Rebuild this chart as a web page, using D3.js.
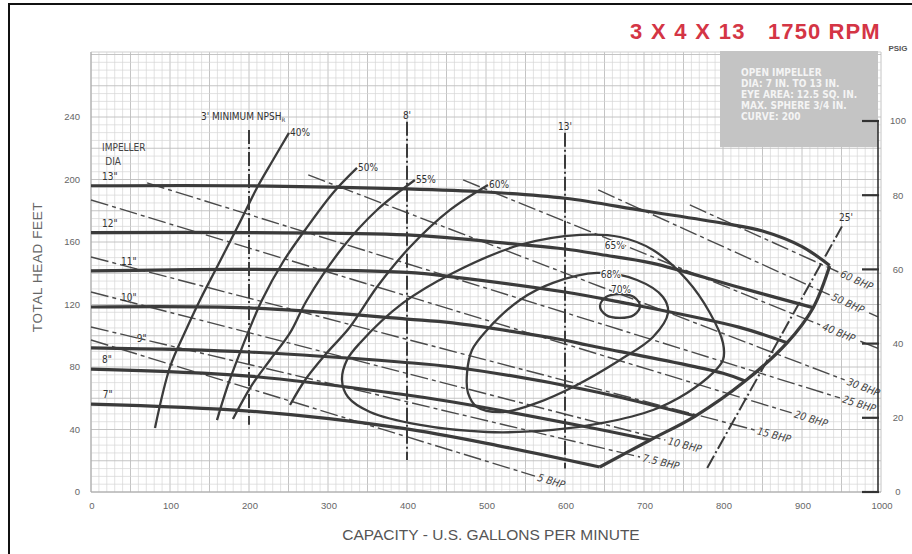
<!DOCTYPE html>
<html><head><meta charset="utf-8">
<script src="https://cdn.jsdelivr.net/npm/d3@7"></script>
<style>
html,body{margin:0;padding:0;background:#fff;}
svg{display:block;font-family:"Liberation Sans",Arial,sans-serif;}
.nar{font-family:"Liberation Sans Narrow","DejaVu Sans Condensed","Liberation Sans",sans-serif;}
</style></head><body>
<svg id="chart" width="912" height="554"></svg>
<script>
// ---- axis ticks ----
const capacityTicks = [0,100,200,300,400,500,600,700,800,900,1000];
const headTicks = [0,40,80,120,160,200,240];
const psigTicks = [0,20,40,60,80,100];

// ---- impeller head curves [gpm, ft] ----
const impellerNames = ['13"','12"','11"','10"','9"','8"','7"'];
const head13 = [[0,196],[200,196],[400,194],[500,192],[600,188],[700,180],[800,172],[850,167],[900,157],[935,145]];
const head12 = [[0,166],[200,166],[400,164.5],[540,158.5],[600,155.5],[645,152],[710,146.5],[820,131],[914,118]];
const head11 = [[0,141.5],[200,142.5],[400,140.5],[460,137.5],[600,128],[670,121.5],[820,105.5],[881,95.5]];
const head10 = [[0,118.4],[200,117.8],[400,110.7],[458,108.2],[598,97.3],[628,94.1],[800,76],[828,71]];
const head9  = [[0,92.2],[200,89.6],[391,83.2],[458,80],[628,65.3],[765,48.6]];
const head8  = [[0,78.7],[200,74.2],[391,62.7],[458,57.6],[628,41.6],[708,33.3]];
const head7  = [[0,56.3],[200,51.8],[391,41],[518,29.4],[644,16]];
const headCurves = [head13,head12,head11,head10,head9,head8,head7];
const impellerLabelGpm = [14,14,38,38,58,14,15];

// end-of-curve envelope
const endOfCurve = [[644,16],[708,33.3],[765,48.6],[828,71],[881,95.4],[914,117.8],[935,144.6]];

// ---- efficiency curves ----
const effOpenNames = ["40%","50%","55%","60%"];
const eff40 = [[81,41],[100,80],[119,102.4],[138,122.9],[159.5,144],[188.6,172.8],[210,194.6],[230.4,212.5],[250.6,229.8]];
const eff50 = [[159.5,46],[173.4,68.5],[192.4,94],[216.5,122.9],[243,147.2],[271,167.7],[306.3,191.4],[336.7,207.4]];
const eff55 = [[179.7,46.7],[203.8,68.5],[226.6,84.5],[251.9,101.8],[273.4,122.9],[319,156.8],[362,180.5],[410,199.7]];
const eff60 = [[251.9,55.7],[271,71.7],[296.2,87.7],[327.8,105.6],[362,131.2],[403.8,156.8],[454.4,180.5],[502.5,196.5]];
const effOpen = [eff40,eff50,eff55,eff60];

const effClosedNames = ["65%","68%","70%"];
const eff65 = [[317.7,71.7],[324,84.5],[340.5,95.4],[395,121],[458.2,140.2],[543,158.1],[619,164.5],[669.6,163.2],[711.4,154.9],[754.4,135.7],[783.5,114.6],[800,95.4],[800,84.5],[787.3,76.2],[754.4,63.4],[711.4,52.5],[648.1,44.2],[584.8,39.7],[501.3,38.4],[416.5,42.9],[353.2,51.2],[325.3,60.8]];
const eff68 = [[476,76.2],[482.3,90.9],[501.3,103.7],[543,122.9],[584.8,133.8],[640.5,140.2],[691.1,135.7],[724,124.8],[730.4,114.6],[711.4,99.2],[669.6,84.5],[610.1,67.2],[564.6,57],[521.5,51.2],[488.6,54.4],[477.2,63.4]];
const eff70 = [[644.3,119],[651.9,124.8],[669.6,126.7],[687.3,124.8],[694.9,119],[687.3,113.3],[669.6,111.4],[651.9,113.3]];
const effClosed = [eff65,eff68,eff70];
const effClosedLabelAt = [[663,155.5],[658,137],[671,127.5]];

// ---- NPSH required lines ----
const npshNames = ["3'","8'","13'","25'"];
const npsh3  = [[200,231.7],[200,43]];
const npsh8  = [[400,237],[400,20.5]];
const npsh13 = [[600,230],[600,15]];
const npsh25 = [[780,15.4],[950.6,170]];
const npshLines = [npsh3,npsh8,npsh13,npsh25];

// ---- brake horsepower lines ----
const bhpNames = ["5 BHP","7.5 BHP","10 BHP","15 BHP","20 BHP","25 BHP","30 BHP","40 BHP","50 BHP","60 BHP"];
const bhp5   = [[0,97.3],[562,10.2]];
const bhp7_5 = [[0,105.6],[695,22.4]];
const bhp10  = [[0,128],[727,33.3]];
const bhp15  = [[0,150.4],[840,39.7]];
const bhp20  = [[0,186.9],[887,50.6]];
const bhp25  = [[71,197.8],[948,60.2]];
const bhp30  = [[275,202.9],[954,71.7]];
const bhp40  = [[471,199.7],[923,106.9]];
const bhp50  = [[642,193.3],[935,126.1]];
const bhp60  = [[758,183.7],[946,140.8]];
const bhpLines = [bhp5,bhp7_5,bhp10,bhp15,bhp20,bhp25,bhp30,bhp40,bhp50,bhp60];
const bhpTail = [false,false,false,false,false,false,false,true,true,true];

const infoLines = ["OPEN IMPELLER","DIA: 7 IN. TO 13 IN.","EYE AREA: 12.5 SQ. IN.","MAX. SPHERE 3/4 IN.","CURVE: 200"];

// ---------------------------------------------------------------
const svg = d3.select("#chart");
const x = d3.scaleLinear().domain([0,1000]).range([91,881]);
const y = d3.scaleLinear().domain([0,240]).range([492,117]);
const p = d3.scaleLinear().domain([0,100]).range([492,121]);
const ink = "#3b3b3b";

svg.append("rect").attr("width",912).attr("height",554).attr("fill","#fff");

// graph-paper grid
const grid = svg.append("g");
const gTop = y(281.6);
d3.range(0,1001,10).forEach(v=>{
  grid.append("line").attr("x1",x(v)).attr("x2",x(v)).attr("y1",gTop).attr("y2",y(0))
    .attr("stroke", v%50===0 ? "#bdbdbd" : "#d6d6d6").attr("stroke-width", v%50===0?0.9:0.7);
});
d3.range(0,281,5).forEach(v=>{
  grid.append("line").attr("x1",x(0)).attr("x2",x(1000)).attr("y1",y(v)).attr("y2",y(v))
    .attr("stroke", v%20===0 ? "#bdbdbd" : "#d6d6d6").attr("stroke-width", v%20===0?0.9:0.7);
});
grid.append("line").attr("x1",x(0)).attr("x2",x(1000)).attr("y1",gTop).attr("y2",gTop).attr("stroke","#cfcfcf");
grid.append("line").attr("x1",x(0)).attr("x2",x(0)).attr("y1",gTop).attr("y2",y(0)).attr("stroke","#aaa");
grid.append("line").attr("x1",x(0)).attr("x2",x(1000)).attr("y1",y(0)).attr("y2",y(0)).attr("stroke","#aaa");

// spec box
svg.append("rect").attr("x",720).attr("y",gTop-1).attr("width",158).attr("height",96).attr("fill","#c4c4c4");
svg.append("g").selectAll("text").data(infoLines).join("text").attr("class","nar")
  .attr("x",741).attr("y",(d,i)=>76+i*11).attr("font-size",10).attr("font-weight","bold")
  .attr("fill","#f4f4f4").text(d=>d);

// title
svg.append("text").attr("x",630).attr("y",39).attr("font-size",22).attr("font-weight","bold")
  .attr("letter-spacing",1.3).attr("fill","#d43545").text("3 X 4 X 13");
svg.append("text").attr("x",768).attr("y",39).attr("font-size",22).attr("font-weight","bold")
  .attr("letter-spacing",1.1).attr("fill","#d43545").text("1750 RPM");

const line = d3.line().x(d=>x(d[0])).y(d=>y(d[1]));
const smooth = d3.line().x(d=>x(d[0])).y(d=>y(d[1])).curve(d3.curveCatmullRom.alpha(0.5));
const closed = d3.line().x(d=>x(d[0])).y(d=>y(d[1])).curve(d3.curveCatmullRomClosed.alpha(0.5));

// BHP lines with labels along them
const bhpG = svg.append("g");
bhpLines.forEach((pts,i)=>{
  bhpG.append("path").attr("d",smooth(pts)).attr("fill","none").attr("stroke","#4a4a4a")
    .attr("stroke-width",1.4).attr("stroke-dasharray","18,4,4,4");
  const a = pts[pts.length-2], b = pts[pts.length-1];
  const dx = x(b[0])-x(a[0]), dy = y(b[1])-y(a[1]);
  const len = Math.hypot(dx,dy), ux = dx/len, uy = dy/len;
  const ang = Math.atan2(dy,dx)*180/Math.PI;
  const lx = x(b[0])+ux*3, ly = y(b[1])+uy*3;
  const t = bhpG.append("text").attr("class","nar").attr("font-size",10.5).attr("fill","#444")
    .attr("font-style","italic")
    .attr("transform",`translate(${lx},${ly}) rotate(${ang})`).attr("dy","0.35em").text(bhpNames[i]);
  if (bhpTail[i]) {
    const w = t.node().getComputedTextLength()+6;
    const sx = lx+ux*w, sy = ly+uy*w;
    const k = (878-sx)/ux;
    bhpG.append("line").attr("x1",sx).attr("y1",sy).attr("x2",878).attr("y2",sy+uy*k)
      .attr("stroke","#4a4a4a").attr("stroke-width",1.4);
  }
});

// NPSH lines
npshLines.forEach(pts=>{
  svg.append("path").attr("d",line(pts)).attr("fill","none").attr("stroke",ink)
    .attr("stroke-width",2).attr("stroke-dasharray","14,3,2,3");
});
const npT = svg.append("text").attr("class","nar").attr("x",x(200)-48).attr("y",y(npsh3[0][1])-10)
  .attr("font-size",10).attr("fill","#333");
npT.append("tspan").text("3' MINIMUM NPSH");
npT.append("tspan").attr("font-size",6).attr("dy",2).text("R");
svg.append("text").attr("class","nar").attr("x",x(400)).attr("y",y(npsh8[0][1])-3).attr("text-anchor","middle").attr("font-size",10).attr("fill","#333").text("8'");
svg.append("text").attr("class","nar").attr("x",x(600)).attr("y",y(npsh13[0][1])-3).attr("text-anchor","middle").attr("font-size",10).attr("fill","#333").text("13'");
svg.append("text").attr("class","nar").attr("x",x(npsh25[1][0])+4).attr("y",y(npsh25[1][1])-5).attr("text-anchor","middle").attr("font-size",10).attr("fill","#333").text("25'");

// efficiency curves
effOpen.forEach((pts,i)=>{
  svg.append("path").attr("d",smooth(pts)).attr("fill","none").attr("stroke",ink).attr("stroke-width",2.3);
  const e = pts[pts.length-1];
  svg.append("text").attr("class","nar").attr("x",x(e[0])+1).attr("y",y(e[1])+3)
    .attr("font-size",10).attr("fill","#333").text(effOpenNames[i]);
});
effClosed.forEach((pts,i)=>{
  svg.append("path").attr("d",closed(pts)).attr("fill","none").attr("stroke",ink).attr("stroke-width",2.3);
  const l = effClosedLabelAt[i];
  svg.append("text").attr("class","nar").attr("x",x(l[0])).attr("y",y(l[1])).attr("text-anchor","middle")
    .attr("font-size",10).attr("fill","#333").attr("paint-order","stroke").attr("stroke","#fff").attr("stroke-width",2)
    .text(effClosedNames[i]);
});

// head curves
headCurves.forEach((pts,i)=>{
  svg.append("path").attr("d",smooth(pts)).attr("fill","none").attr("stroke",ink).attr("stroke-width",3.2);
  svg.append("text").attr("class","nar").attr("x",x(impellerLabelGpm[i])).attr("y",y(pts[0][1])-6)
    .attr("font-size",10).attr("fill","#333").text(impellerNames[i]);
});
svg.append("path").attr("d",smooth(endOfCurve)).attr("fill","none").attr("stroke",ink).attr("stroke-width",3.2);
svg.append("text").attr("class","nar").attr("x",x(14)).attr("y",y(218)).attr("font-size",10).attr("fill","#444").text("IMPELLER");
svg.append("text").attr("class","nar").attr("x",x(18)).attr("y",y(209)).attr("font-size",10).attr("fill","#444").text("DIA");

// left axis labels
svg.append("g").selectAll("text").data(headTicks).join("text")
  .attr("x",80).attr("y",d=>y(d)).attr("dy","0.35em").attr("text-anchor","end")
  .attr("font-size",9.5).attr("fill","#666").text(d=>d);
// bottom axis labels
svg.append("g").selectAll("text").data(capacityTicks).join("text")
  .attr("x",d=>x(d)+1).attr("y",509).attr("text-anchor","middle")
  .attr("font-size",9.5).attr("fill","#666").text(d=>d);
// right PSIG axis
const pr = svg.append("g");
pr.append("line").attr("x1",878).attr("x2",878).attr("y1",p(100)).attr("y2",p(0)).attr("stroke","#333").attr("stroke-width",1.6);
psigTicks.forEach(v=>{
  pr.append("line").attr("x1",862).attr("x2",879).attr("y1",p(v)).attr("y2",p(v)).attr("stroke","#333").attr("stroke-width",2.2);
  pr.append("text").attr("x",898).attr("y",p(v)).attr("dy","0.35em").attr("text-anchor","middle")
    .attr("font-size",9.5).attr("fill","#666").text(v);
});
pr.append("text").attr("x",898).attr("y",51).attr("text-anchor","middle").attr("font-size",8)
  .attr("font-weight","bold").attr("fill","#555").text("PSIG");

// axis titles
svg.append("text").attr("transform","translate(42,267) rotate(-90)").attr("text-anchor","middle")
  .attr("font-size",13.5).attr("letter-spacing",0.6).attr("fill","#666").text("TOTAL HEAD FEET");
svg.append("text").attr("x",491).attr("y",540).attr("text-anchor","middle")
  .attr("font-size",15.5).attr("fill","#555").text("CAPACITY - U.S. GALLONS PER MINUTE");

// frame
svg.append("rect").attr("x",9).attr("y",4).attr("width",910).attr("height",560)
  .attr("fill","none").attr("stroke","#111").attr("stroke-width",2);
</script>
</body></html>
